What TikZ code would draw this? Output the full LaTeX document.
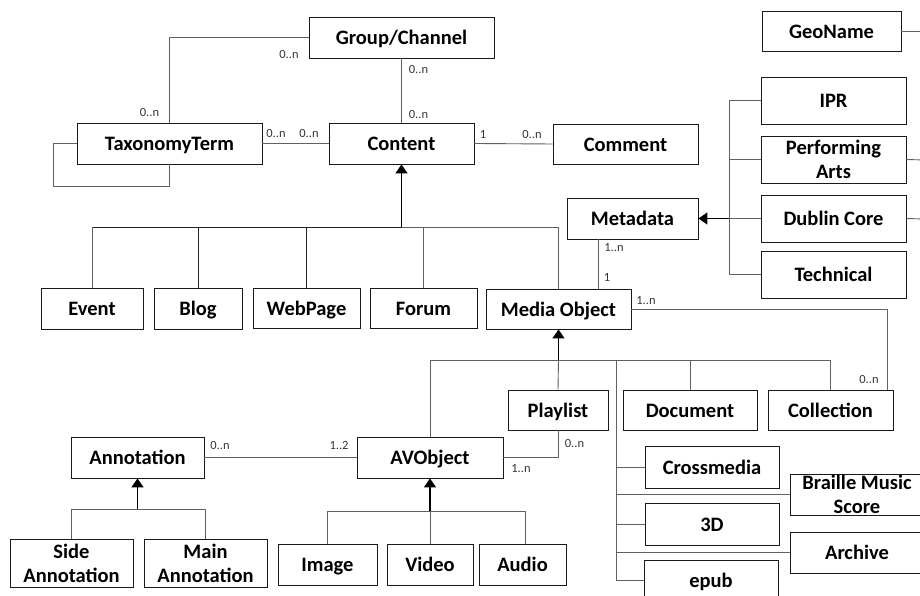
\documentclass[tikz,border=0pt]{standalone}
\usepackage{fontspec}
\setmainfont{Carlito}
\usetikzlibrary{arrows.meta}
\begin{document}
\begin{tikzpicture}[x=1pt,y=-1pt,
  box/.style={draw=black!90, line width=0.9pt, inner sep=0pt, align=center,
    font=\bfseries\fontsize{20.5}{24}\selectfont},
  sline/.style={text height=14.5pt, text depth=0pt},
  mline/.style={},
  conn/.style={draw=black!62, line width=0.9pt},
  bus/.style={draw=black!85, line width=0.9pt},
  inh/.style={draw=black, line width=1.5pt, -{Triangle[width=12pt,length=9pt]}},
  mult/.style={font=\fontsize{12.5}{14}\selectfont, text=black!80, inner sep=0pt}]
\clip (0,0) rectangle (920,596);
\useasboundingbox (0,0) rectangle (920,596);
\newcommand{\bx}[7][sline]{\node[box, #1, minimum width={(#5)-(#3)}, minimum height={(#6)-(#4)}] (#2) at ({((#3)+(#5))/2},{((#4)+(#6))/2}) {#7};}
% boxes
\bx{group}{309}{17}{494}{58}{Group/Channel}
\bx{taxonomy}{77}{123}{262}{164}{TaxonomyTerm}
\bx{content}{329}{123}{474}{164}{Content}
\bx{comment}{553}{124}{698}{164}{Comment}
\bx{geoname}{762}{11}{901}{51}{GeoName}
\bx{ipr}{761}{77}{906}{124}{IPR}
\bx[mline]{perf}{761}{136}{906}{183}{Performing\\Arts}
\bx{dublin}{761}{195}{906}{242}{Dublin Core}
\bx{technical}{761}{251}{906}{298}{Technical}
\bx{metadata}{567}{198}{698}{239}{Metadata}
\bx{event}{41}{288}{143}{329}{Event}
\bx{blog}{154}{288}{242}{329}{Blog}
\bx{webpage}{253}{288}{360}{328}{WebPage}
\bx{forum}{370}{288}{477}{328}{Forum}
\bx{media}{486}{289}{631}{329}{Media Object}
\bx{playlist}{508}{390}{608}{430}{Playlist}
\bx{document}{623}{390}{757}{430}{Document}
\bx{collection}{768}{390}{893}{430}{Collection}
\bx{avobject}{357}{437}{503}{478}{AVObject}
\bx{annotation}{71}{437}{204}{478}{Annotation}
\bx[mline]{side}{10}{539}{133}{587}{Side\\Annotation}
\bx[mline]{main}{144}{539}{267}{587}{Main\\Annotation}
\bx{image}{278}{544}{377}{585}{Image}
\bx{video}{387}{544}{473}{585}{Video}
\bx{audio}{479}{544}{566}{585}{Audio}
\bx{crossmedia}{645}{446}{779}{488}{Crossmedia}
\bx[mline]{braille}{790}{474}{924}{515}{Braille Music\\Score}
\bx{three}{645}{503}{779}{545}{3D}
\bx{archive}{790}{532}{924}{573}{Archive}
\bx{epub}{644}{560}{778}{601}{epub}
% free ends and bus points
\coordinate (geoR) at (925,31);
\coordinate (perfR) at (925,160);
\coordinate (dublinR) at (925,219);
\coordinate (cbus) at (401.5,227);
\coordinate (mdx) at (729,0);
\coordinate (mmx) at (598,0);
\coordinate (colx) at (887,0);
\coordinate (mbus) at (558.5,360);
\coordinate (vbx) at (616,0);
\coordinate (abus) at (137.5,509);
\coordinate (mainx) at (205.5,509);
\coordinate (avbus) at (430,511);
\coordinate (audx) at (525,511);
% associations
\draw[conn] (group.west) -| (taxonomy.north);
\draw[conn] (taxonomy.west) -- ++(-23,0) -- ++(0,43) -| (taxonomy.south);
\draw[conn] (taxonomy.east) -- (content.west);
\draw[conn] (group.south) -- (content.north);
\draw[conn] (content.east) -- (comment.west);
\draw[conn] (metadata.south -| mmx) -- (media.north -| mmx);
\draw[conn] (media.east) -| (collection.north -| colx);
\draw[conn] (avobject.east) -| (playlist.south);
\draw[conn] (annotation.east) -- (avobject.west);
\draw[conn] (geoname.east) -- (geoR);
\draw[conn] (perf.east) -- (perfR);
\draw[conn] (dublin.east) -- (dublinR);
% content hierarchy
\draw[bus] (event.north |- cbus) -- (cbus);
\draw[conn] (cbus) -- (media.north |- cbus);
\draw[conn] (event.north) -- (event.north |- cbus);
\draw[bus] (blog.north) -- (blog.north |- cbus);
\draw[bus] (webpage.north) -- (webpage.north |- cbus);
\draw[conn] (forum.north) -- (forum.north |- cbus);
\draw[conn] (media.north) -- (media.north |- cbus);
\draw[inh] (cbus) -- (content.south);
% metadata hierarchy
\draw[conn] (ipr.west) -| (mdx |- technical.west) -- (technical.west);
\draw[conn] (perf.west) -- (perf.west -| mdx);
\draw[conn] (dublin.west) -- (dublin.west -| mdx);
\draw[inh] (dublin.west -| mdx) -- (metadata.east);
% media hierarchy
\draw[conn] (avobject.north) -- (avobject.north |- mbus) -- (collection.north |- mbus) -- (collection.north);
\draw[conn] (playlist.north) -- (mbus);
\draw[conn] (document.north) -- (document.north |- mbus);
\draw[conn] (vbx |- mbus) -- (vbx |- epub.west) -- (epub.west);
\draw[conn] (crossmedia.west) -- (crossmedia.west -| vbx);
\draw[conn] (braille.west) -- (braille.west -| vbx);
\draw[conn] (three.west) -- (three.west -| vbx);
\draw[conn] (archive.west) -- (archive.west -| vbx);
\draw[inh] (mbus) -- (media.south);
% annotation hierarchy
\draw[conn] (side.north) -- (side.north |- abus) -- (mainx) -- (main.north -| mainx);
\draw[inh] (abus) -- (annotation.south);
% avobject hierarchy
\draw[conn] (image.north) -- (image.north |- avbus) -- (audx) -- (audio.north -| audx);
\draw[conn] (video.north) -- (avbus);
\draw[inh] (avbus) -- (avobject.south);
% multiplicities
\node[mult] (m1) at (289,54) {0..n};
\node[mult] (m2) at (149.5,112) {0..n};
\node[mult] (m3) at (276,133) {0..n};
\node[mult] (m4) at (309,133) {0..n};
\node[mult] (m5) at (418.5,69) {0..n};
\node[mult] (m6) at (418.5,114) {0..n};
\node[mult] (m7) at (483,134) {1};
\node[mult] (m8) at (532,134) {0..n};
\node[mult] (m9) at (614,248) {1..n};
\node[mult] (m10) at (607,277) {1};
\node[mult] (m11) at (646,301) {1..n};
\node[mult] (m12) at (869,379) {0..n};
\node[mult] (m13) at (574.5,443) {0..n};
\node[mult] (m14) at (521,469) {1..n};
\node[mult] (m15) at (220,445) {0..n};
\node[mult] (m16) at (339,445) {1..2};
\end{tikzpicture}
\end{document}
